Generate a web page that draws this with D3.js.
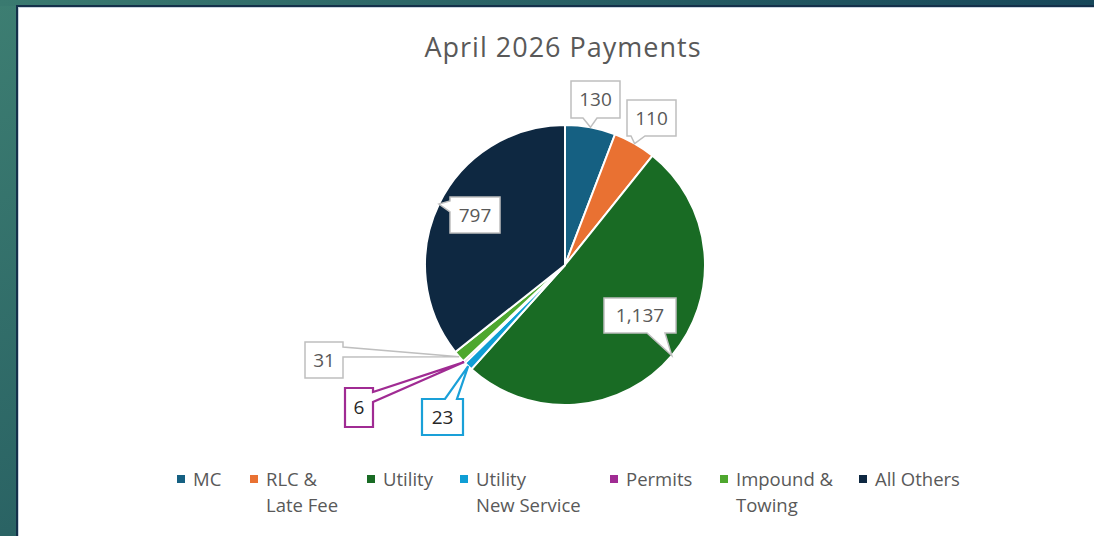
<!DOCTYPE html>
<html>
<head>
<meta charset="utf-8">
<script src="https://cdn.jsdelivr.net/npm/d3@7"></script>
<style>
  html, body { margin: 0; padding: 0; overflow: hidden; }
  svg { display: block; }
</style>
</head>
<body>
<svg id="chart" width="1094" height="536"></svg>
<script>
// ---------- data ----------
const title = "April 2026 Payments";
const categories = ["MC", "RLC & Late Fee", "Utility", "Utility New Service", "Permits", "Impound & Towing", "All Others"];
const values = [130, 110, 1137, 23, 6, 31, 797];
const legendLines = [["MC"], ["RLC &", "Late Fee"], ["Utility"], ["Utility", "New Service"], ["Permits"], ["Impound &", "Towing"], ["All Others"]];
const colors = ["#156082", "#E97132", "#196B24", "#0F9ED5", "#A02B93", "#4EA72E", "#0E2841"];

// ---------- layout (not data) ----------
const W = 1094, H = 536;
const cx = 565, cy = 265, R = 140;
// callout boxes: x, y, w, h, pointer edge, base start, base end, border colour, text colour, border width
const callouts = [
  {x: 571, y: 81,  w: 49, h: 37, edge: "bottom", b0: 583, b1: 597, stroke: "#bfbfbf", text: "#595959", sw: 1.5},
  {x: 627, y: 100, w: 49, h: 36, edge: "bottom", b0: 631, b1: 645, stroke: "#bfbfbf", text: "#595959", sw: 1.5},
  {x: 604, y: 298, w: 72, h: 35, edge: "bottom", b0: 647, b1: 665, stroke: "#bfbfbf", text: "#595959", sw: 1.5},
  {x: 422, y: 399, w: 41, h: 36, edge: "top",    b0: 445, b1: 457, stroke: "#1AA0D8", text: "#262626", sw: 2.2},
  {x: 345, y: 388, w: 28, h: 39, edge: "right",  b0: 392, b1: 402, stroke: "#A02B93", text: "#262626", sw: 2.2},
  {x: 305, y: 342, w: 38, h: 36, edge: "right",  b0: 347, b1: 357, stroke: "#bfbfbf", text: "#595959", sw: 1.5},
  {x: 450, y: 197, w: 50, h: 36, edge: "left",   b0: 201, b1: 212, stroke: "#bfbfbf", text: "#595959", sw: 1.5}
];
const legendX = [177, 250, 367, 460, 610, 720, 859];

const FONT = "'Open Sans', 'Noto Sans', sans-serif";
const svg = d3.select("#chart");

// background
const defs = svg.append("defs");
const grad = defs.append("linearGradient").attr("id", "bg").attr("x1", "0").attr("y1", "0").attr("x2", "1").attr("y2", "1");
grad.append("stop").attr("offset", "0").attr("stop-color", "#3d7e72");
grad.append("stop").attr("offset", "0.5").attr("stop-color", "#2a6364");
grad.append("stop").attr("offset", "1").attr("stop-color", "#123f4c");
svg.append("rect").attr("width", W).attr("height", H).attr("fill", "url(#bg)");
const grad2 = defs.append("linearGradient").attr("id", "topbg").attr("x1", "0").attr("y1", "0").attr("x2", "1").attr("y2", "0");
grad2.append("stop").attr("offset", "0").attr("stop-color", "#3a7a70");
grad2.append("stop").attr("offset", "1").attr("stop-color", "#17475a");
svg.append("rect").attr("width", W).attr("height", 6).attr("fill", "url(#topbg)");

// chart panel
svg.append("rect").attr("x", 16).attr("y", 5).attr("width", W).attr("height", H).attr("fill", "#14304a");
svg.append("rect").attr("x", 18).attr("y", 7).attr("width", W).attr("height", H).attr("fill", "#c9d3df");
svg.append("rect").attr("x", 19).attr("y", 8).attr("width", W).attr("height", H).attr("fill", "#ffffff");

// title
svg.append("text")
  .attr("x", 563).attr("y", 57)
  .attr("text-anchor", "middle")
  .attr("font-family", FONT).attr("font-size", 27)
  .attr("letter-spacing", 1)
  .attr("fill", "#595959")
  .text(title);

// pie
const pie = d3.pie().sort(null).value(d => d.value);
const arcs = pie(categories.map((c, i) => ({cat: c, value: values[i], color: colors[i]})));
const arc = d3.arc().innerRadius(0).outerRadius(R);
const edgeArc = d3.arc().innerRadius(R).outerRadius(R);

const g = svg.append("g").attr("transform", `translate(${cx},${cy})`);
g.selectAll("path.slice").data(arcs).join("path")
  .attr("class", "slice")
  .attr("d", arc)
  .attr("fill", d => d.data.color)
  .attr("stroke", "#ffffff")
  .attr("stroke-width", 2)
  .attr("stroke-linejoin", "round");

// callouts
const fmt = d3.format(",");
function calloutPath(c, tip) {
  const {x, y, w, h, edge, b0, b1} = c;
  const p = [];
  p.push([x, y]);
  if (edge === "top") { p.push([b0, y], tip, [b1, y]); }
  p.push([x + w, y]);
  if (edge === "right") { p.push([x + w, b0], tip, [x + w, b1]); }
  p.push([x + w, y + h]);
  if (edge === "bottom") { p.push([b1, y + h], tip, [b0, y + h]); }
  p.push([x, y + h]);
  if (edge === "left") { p.push([x, b1], tip, [x, b0]); }
  return "M" + p.map(q => q.join(",")).join("L") + "Z";
}
const cg = svg.append("g");
arcs.forEach((a, i) => {
  const c = callouts[i];
  const t = edgeArc.centroid(a);
  const tip = [t[0] + cx, t[1] + cy];
  cg.append("path")
    .attr("d", calloutPath(c, tip))
    .attr("fill", "#ffffff")
    .attr("stroke", c.stroke)
    .attr("stroke-width", c.sw)
    .attr("stroke-linejoin", "miter");
  cg.append("text")
    .attr("x", c.x + c.w / 2).attr("y", c.y + c.h / 2)
    .attr("dy", "0.35em")
    .attr("text-anchor", "middle")
    .attr("font-family", FONT).attr("font-size", 19)
    .attr("fill", c.text)
    .text(fmt(a.data.value));
});

// legend
const lg = svg.append("g");
categories.forEach((cat, i) => {
  const x = legendX[i];
  lg.append("rect").attr("x", x).attr("y", 475).attr("width", 8).attr("height", 8).attr("fill", colors[i]);
  const t = lg.append("text")
    .attr("x", x + 16).attr("y", 486)
    .attr("font-family", FONT).attr("font-size", 18.5)
    .attr("fill", "#595959");
  legendLines[i].forEach((ln, j) => {
    t.append("tspan").attr("x", x + 16).attr("dy", j === 0 ? 0 : 26).text(ln);
  });
});
</script>
</body>
</html>
